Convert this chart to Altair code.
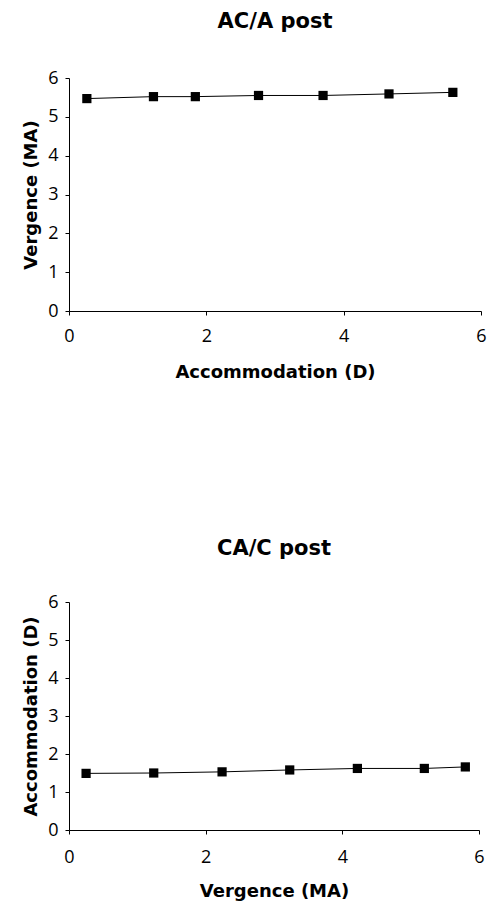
import altair as alt
import pandas as pd

# Top panel: AC/A post
aca_accommodation = [0.26, 1.23, 1.84, 2.76, 3.70, 4.66, 5.59]
aca_vergence = [5.47, 5.52, 5.52, 5.55, 5.55, 5.59, 5.63]

# Bottom panel: CA/C post
cac_vergence = [0.25, 1.24, 2.24, 3.23, 4.22, 5.20, 5.80]
cac_accommodation = [1.49, 1.50, 1.53, 1.58, 1.62, 1.62, 1.66]

x_ticks = [0, 2, 4, 6]
y_ticks = [0, 1, 2, 3, 4, 5, 6]

TITLE_FONT = "DejaVu Sans"
LABEL_FONT = "Open Sans"


def panel(xs, ys, title, xtitle, ytitle, w, h, lpad, tpad, toff):
    df = pd.DataFrame({"x": xs, "y": ys})
    base = alt.Chart(df).encode(
        x=alt.X(
            "x:Q",
            scale=alt.Scale(domain=[0, 6], nice=False, zero=False),
            axis=alt.Axis(values=x_ticks, title=xtitle, labelPadding=lpad,
                          titlePadding=tpad, labelFlush=False),
        ),
        y=alt.Y(
            "y:Q",
            scale=alt.Scale(domain=[0, 6], nice=False),
            axis=alt.Axis(values=y_ticks, title=ytitle, labelPadding=7,
                          titlePadding=7),
        ),
    )
    line = base.mark_line(color="black", strokeWidth=1)
    pts = base.mark_square(size=85, color="black", opacity=1)
    return (line + pts).properties(
        width=w, height=h,
        title=alt.TitleParams(title, font=TITLE_FONT, fontSize=21,
                              fontWeight="bold", offset=toff, color="black"),
    )


top = panel(aca_accommodation, aca_vergence, "AC/A post",
            "Accommodation (D)", "Vergence (MA)", 412, 233, 12, 18, 37)
bottom = panel(cac_vergence, cac_accommodation, "CA/C post",
               "Vergence (MA)", "Accommodation (D)", 410, 228, 14, 16, 34)

chart = alt.vconcat(top, bottom, spacing=157).properties(
    padding={"left": 22, "top": 11, "right": 5, "bottom": 5}
).configure_view(stroke=None).configure_axis(
    grid=False,
    domainColor="black",
    tickColor="black",
    tickSize=4,
    labelFont=LABEL_FONT,
    labelFontSize=18,
    labelColor="black",
    titleFont=TITLE_FONT,
    titleFontSize=18,
    titleFontWeight="bold",
    titleColor="black",
).configure_concat(spacing=157)

chart.save("out.html", embed_options={"renderer": "svg", "actions": False})
